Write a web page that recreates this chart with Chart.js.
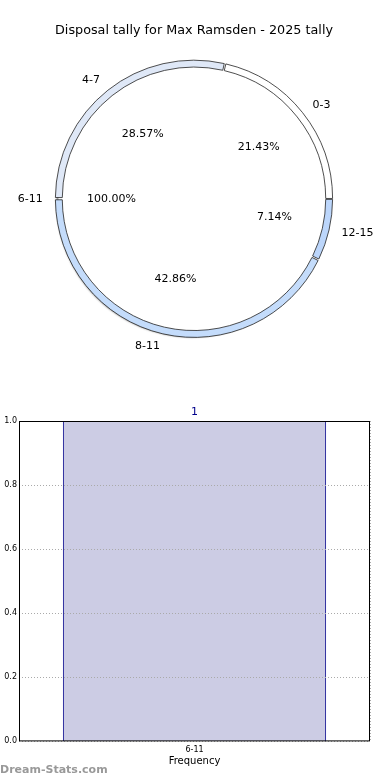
<!DOCTYPE html>
<html>
<head>
<meta charset="utf-8">
<script src="https://cdn.jsdelivr.net/npm/chart.js@4"></script>
<style>
  body { margin: 0; background: #fff; width: 390px; height: 780px; overflow: hidden; position: relative; font-family: "DejaVu Sans", sans-serif; }
  #pieWrap { position: absolute; left: 0; top: 0; width: 390px; height: 390px; }
  #barWrap { position: absolute; left: 0; top: 400px; width: 390px; height: 380px; }
  #credit { position: absolute; left: 0; top: 763px; font: bold 11px "DejaVu Sans", sans-serif; color: #999; }
</style>
</head>
<body>
<div id="pieWrap"><canvas id="pieChart" width="390" height="390"></canvas></div>
<div id="barWrap"><canvas id="barChart" width="390" height="380"></canvas></div>
<div id="credit">Dream-Stats.com</div>
<script>
const chartTitle = 'Disposal tally for Max Ramsden - 2025 tally';

// outer ring (clockwise from the top)
const ringLabels = ['0-3', '12-15', '8-11', '4-7'];
const ringPercents = [21.43, 7.14, 42.86, 28.57];
const ringColors = ['#ffffff', '#bcd6fb', '#c4dcfb', '#dfe8f7'];

// inner pie
const pieLabels = ['6-11'];
const piePercents = [100];

// bar chart
const barCategories = ['6-11'];
const barCounts = [1];
const yTicks = [0, 0.2, 0.4, 0.6, 0.8, 1.0];

const FONT = '"DejaVu Sans", sans-serif';

const pieLabelPlugin = {
  id: 'pieLabels',
  beforeDatasetsDraw(chart) {
    const ctx = chart.ctx;
    const arc = chart.getDatasetMeta(0).data[0];
    ctx.save();
    ctx.shadowColor = 'rgba(0,0,0,0.45)';
    ctx.shadowOffsetX = -2;
    ctx.shadowOffsetY = 3;
    ctx.shadowBlur = 2;
    ctx.beginPath();
    ctx.arc(arc.x, arc.y, arc.outerRadius - 2, 0, Math.PI * 2);
    ctx.fillStyle = '#fff';
    ctx.fill();
    ctx.restore();
  },
  afterDatasetsDraw(chart) {
    const ctx = chart.ctx;
    ctx.save();
    ctx.font = '11px ' + FONT;
    ctx.fillStyle = '#000';
    ctx.textBaseline = 'middle';
    const outer = chart.getDatasetMeta(0).data[0].outerRadius;
    chart.data.datasets.forEach((ds, di) => {
      const meta = chart.getDatasetMeta(di);
      meta.data.forEach((arc, i) => {
        const mid = (arc.startAngle + arc.endAngle) / 2;
        const cx = arc.x, cy = arc.y;
        const lx = cx + Math.cos(mid) * outer * 1.1;
        const ly = cy + Math.sin(mid) * outer * 1.1;
        ctx.textAlign = Math.cos(mid) >= 0 ? 'left' : 'right';
        ctx.fillText(ds.names[i], lx, ly);
        ctx.textAlign = 'center';
        const px = cx + Math.cos(mid) * outer * 0.6;
        const py = cy + Math.sin(mid) * outer * 0.6;
        ctx.fillText(ds.data[i].toFixed(2) + '%', px, py);
      });
    });
    ctx.restore();
  }
};

new Chart(document.getElementById('pieChart'), {
  type: 'doughnut',
  data: {
    datasets: [
      {
        data: ringPercents,
        names: ringLabels,
        backgroundColor: ringColors,
        borderColor: '#222',
        borderWidth: 0.8,
        spacing: 2,
        rotation: 13,
        weight: 1
      },
      {
        data: piePercents,
        names: pieLabels,
        backgroundColor: ['#ffffff'],
        borderWidth: 0,
        rotation: 90,
        weight: 19
      }
    ]
  },
  options: {
    responsive: false,
    animation: false,
    cutout: 0,
    layout: { padding: { left: 55, right: 57, top: 1, bottom: 52 } },
    plugins: {
      legend: { display: false },
      tooltip: { enabled: false },
      title: {
        display: true,
        text: chartTitle,
        color: '#000',
        font: { family: FONT, size: 13, weight: 'normal' },
        padding: { top: 22, bottom: 21 }
      }
    }
  },
  plugins: [pieLabelPlugin]
});

const barTopLabel = {
  id: 'barTopLabel',
  afterDatasetsDraw(chart) {
    const ctx = chart.ctx;
    ctx.save();
    ctx.font = '11px ' + FONT;
    ctx.fillStyle = '#00008b';
    ctx.textAlign = 'center';
    ctx.textBaseline = 'bottom';
    chart.getDatasetMeta(0).data.forEach((bar, i) => {
      ctx.fillText(String(barCounts[i]), bar.x, bar.y - 3);
    });
    ctx.restore();
  }
};

const frameBox = {
  id: 'frameBox',
  afterDraw(chart) {
    const a = chart.chartArea;
    const ctx = chart.ctx;
    ctx.save();
    ctx.strokeStyle = '#000';
    ctx.lineWidth = 1;
    ctx.strokeRect(a.left + 0.5, a.top + 0.5, a.right - a.left - 1, a.bottom - a.top - 1);
    ctx.restore();
  }
};

new Chart(document.getElementById('barChart'), {
  type: 'bar',
  data: {
    labels: barCategories,
    datasets: [{
      data: barCounts,
      backgroundColor: '#cccce4',
      borderColor: '#00008b',
      borderWidth: { left: 1, right: 1, top: 0, bottom: 0 },
      borderSkipped: false,
      barPercentage: 0.75,
      categoryPercentage: 1
    }]
  },
  options: {
    responsive: false,
    animation: false,
    layout: { padding: { left: 0, right: 20, top: 21, bottom: 13 } },
    plugins: { legend: { display: false }, tooltip: { enabled: false } },
    scales: {
      x: {
        afterFit: s => { s.height -= 4; },
        grid: { color: '#aaa', drawTicks: false, z: 1 },
        border: { display: false, dash: [1, 2] },
        ticks: { color: '#000', font: { family: FONT, size: 8 }, padding: 4 },
        title: { display: true, text: 'Frequency', color: '#000', font: { family: FONT, size: 10 }, padding: { top: 0, bottom: 0 } }
      },
      y: {
        min: 0,
        max: 1,
        afterBuildTicks: s => { s.ticks = yTicks.map(v => ({ value: v })); },
        afterFit: s => { s.width = 19; },
        grid: { color: '#aaa', drawTicks: false, z: 1 },
        border: { display: false, dash: [1, 2] },
        ticks: { color: '#000', font: { family: FONT, size: 8 }, padding: 2, callback: v => v.toFixed(1) }
      }
    }
  },
  plugins: [barTopLabel, frameBox]
});
</script>
</body>
</html>
